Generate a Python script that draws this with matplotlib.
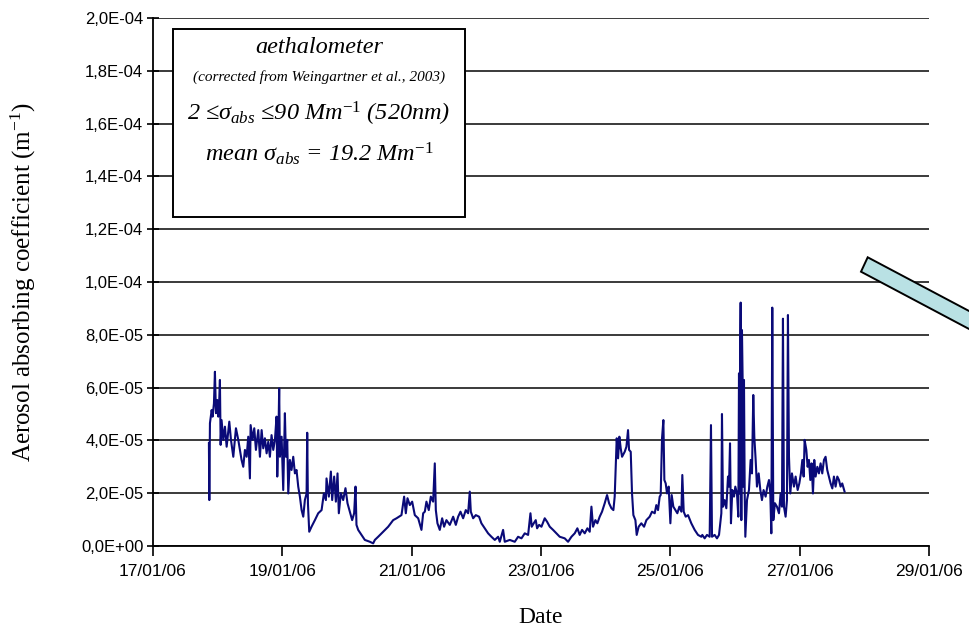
import numpy as np
import matplotlib
matplotlib.use('Agg')
import matplotlib.pyplot as plt
import matplotlib.dates as mdates
from matplotlib.patches import Polygon, Rectangle
from matplotlib.ticker import FuncFormatter

# days since 17/01/06 00:00 and absorption coefficient in 1e-5 m^-1
days = [
    0.865, 0.871, 0.881, 0.907, 0.922, 0.943, 0.958, 0.974, 0.994, 1.010,
    1.025, 1.035, 1.046, 1.061, 1.087, 1.113, 1.139, 1.180, 1.206, 1.242,
    1.283, 1.319, 1.345, 1.370, 1.396, 1.422, 1.448, 1.473, 1.499, 1.510,
    1.540, 1.566, 1.592, 1.628, 1.654, 1.680, 1.705, 1.731, 1.757, 1.783,
    1.808, 1.834, 1.860, 1.886, 1.911, 1.922, 1.942, 1.952, 1.963, 1.989,
    2.014, 2.040, 2.056, 2.076, 2.092, 2.117, 2.143, 2.169, 2.195, 2.220,
    2.246, 2.272, 2.298, 2.324, 2.349, 2.375, 2.385, 2.396, 2.416, 2.452,
    2.504, 2.555, 2.607, 2.643, 2.674,
    2.684, 2.720, 2.751, 2.771, 2.802, 2.828, 2.854, 2.874, 2.905, 2.941,
    2.977, 3.008, 3.044, 3.080, 3.111, 3.132, 3.147, 3.173, 3.225, 3.276,
    3.354, 3.405, 3.431, 3.482, 3.560, 3.637, 3.714, 3.766, 3.843, 3.884,
    3.910, 3.936, 3.972, 4.008, 4.049, 4.101, 4.152, 4.178, 4.204, 4.229,
    4.265, 4.296, 4.332, 4.358, 4.374, 4.399, 4.435, 4.472, 4.502, 4.538,
    4.590,
    4.642, 4.683, 4.719, 4.755, 4.796, 4.837, 4.873, 4.899, 4.915, 4.951,
    4.992, 5.043, 5.079, 5.131, 5.182, 5.234, 5.286, 5.337, 5.363, 5.414,
    5.440, 5.517, 5.595, 5.646, 5.698, 5.749, 5.801, 5.837, 5.857, 5.888,
    5.919, 5.940, 5.971, 6.007, 6.058, 6.094, 6.136, 6.187, 6.239, 6.290,
    6.367, 6.419, 6.471, 6.522,
    6.563, 6.599, 6.635, 6.677, 6.718, 6.754, 6.780, 6.805, 6.841, 6.872,
    6.908, 6.944, 6.986, 7.022, 7.053, 7.089, 7.120, 7.140, 7.171, 7.192,
    7.212, 7.233, 7.254, 7.295, 7.321, 7.346, 7.362, 7.388, 7.408, 7.429,
    7.460, 7.480, 7.511, 7.552, 7.594, 7.630, 7.681, 7.717, 7.759, 7.784,
    7.810, 7.836, 7.851, 7.872, 7.893, 7.908, 7.929, 7.949, 7.975, 8.001,
    8.021, 8.047, 8.078, 8.109, 8.140, 8.171, 8.186, 8.207, 8.238, 8.274,
    8.325, 8.377, 8.428, 8.480,
    8.495, 8.531, 8.567, 8.609, 8.629, 8.645, 8.686, 8.722, 8.753, 8.773,
    8.789, 8.799, 8.815, 8.840, 8.866, 8.892, 8.907, 8.923, 8.938, 8.959,
    8.985, 9.005, 9.031, 9.052, 9.062, 9.072, 9.077, 9.088, 9.098, 9.108,
    9.119, 9.129, 9.139, 9.150, 9.160, 9.186, 9.216, 9.242, 9.263, 9.283,
    9.299, 9.320, 9.340, 9.366, 9.392, 9.417, 9.443, 9.474, 9.500, 9.526,
    9.546, 9.562, 9.577, 9.593, 9.618, 9.649, 9.680, 9.706, 9.727, 9.742,
    9.757, 9.783, 9.804, 9.819, 9.835, 9.855, 9.881, 9.912, 9.938, 9.969,
    9.995, 10.020, 10.041, 10.062, 10.077, 10.103, 10.123, 10.144, 10.165, 10.185,
    10.206, 10.226, 10.247, 10.273, 10.298, 10.324, 10.350, 10.376, 10.401, 10.427,
    10.453, 10.479, 10.505, 10.530, 10.556, 10.582, 10.608, 10.633, 10.659, 10.695,
]
sigma_abs = [
    3.89, 1.74, 4.65, 5.15, 4.90, 5.40, 6.60, 5.03, 5.53, 4.90,
    5.53, 6.29, 3.83, 4.77, 4.02, 4.52, 3.76, 4.71, 4.02, 3.38,
    4.46, 4.02, 3.64, 3.26, 3.00, 3.64, 3.38, 4.14, 2.56, 4.58,
    4.02, 4.46, 3.64, 4.39, 3.38, 4.39, 3.70, 4.08, 3.51, 3.95,
    3.38, 4.20, 3.64, 4.02, 4.90, 2.63, 4.52, 5.97, 3.38, 4.14,
    2.12, 5.03, 3.38, 4.02, 1.99, 3.26, 2.88, 3.38, 2.75, 2.88,
    2.25, 1.87, 1.36, 1.11, 1.74, 1.99, 4.29, 1.62, 0.54, 0.73,
    0.98, 1.24, 1.36, 1.99, 1.74,
    2.56, 1.87, 2.82, 1.74, 2.63, 1.68, 2.75, 1.24, 2.00, 1.74,
    2.19, 1.62, 1.30, 0.98, 1.24, 2.25, 0.80, 0.61, 0.42, 0.23,
    0.16, 0.10, 0.23, 0.35, 0.54, 0.73, 0.98, 1.05, 1.17, 1.87,
    1.24, 1.81, 1.55, 1.68, 1.17, 1.05, 0.61, 1.24, 1.30, 1.68,
    1.36, 1.87, 1.68, 3.13, 1.36, 0.86, 0.61, 1.05, 0.73, 0.98,
    0.80,
    1.11, 0.80, 1.11, 1.30, 1.05, 1.36, 1.24, 2.06, 1.30, 1.05,
    1.17, 1.11, 0.86, 0.67, 0.48, 0.35, 0.23, 0.35, 0.16, 0.61,
    0.16, 0.23, 0.16, 0.35, 0.29, 0.48, 0.42, 1.24, 0.73, 0.86,
    0.98, 0.67, 0.80, 0.73, 1.05, 0.92, 0.73, 0.61, 0.48, 0.35,
    0.29, 0.16, 0.35, 0.48,
    0.67, 0.42, 0.61, 0.48, 0.67, 0.54, 1.49, 0.73, 0.98, 0.86,
    1.11, 1.30, 1.62, 1.93, 1.62, 1.43, 1.36, 1.87, 4.08, 3.32,
    4.14, 3.70, 3.38, 3.57, 3.76, 4.39, 3.64, 3.57, 1.99, 1.17,
    0.98, 0.42, 0.73, 0.86, 0.73, 0.98, 1.11, 1.30, 1.24, 1.55,
    1.36, 1.87, 1.93, 4.08, 4.77, 2.50, 2.37, 1.99, 2.25, 0.86,
    1.93, 1.49, 1.36, 1.24, 1.49, 1.30, 2.69, 1.30, 1.11, 1.17,
    0.86, 0.61, 0.42, 0.35,
    0.42, 0.29, 0.42, 0.35, 4.58, 0.35, 0.42, 0.29, 0.42, 0.86,
    1.24, 5.00, 1.49, 1.74, 1.43, 2.63, 2.25, 3.89, 0.86, 2.12,
    1.87, 2.25, 1.99, 1.11, 6.54, 1.99, 6.29, 9.22, 0.98, 8.18,
    6.16, 2.25, 6.29, 1.99, 0.35, 1.74, 2.12, 3.26, 2.75, 5.72,
    4.14, 3.26, 2.25, 2.75, 2.12, 1.74, 2.12, 1.87, 2.25, 2.50,
    1.99, 0.48, 9.03, 0.98, 1.62, 1.49, 1.24, 1.99, 1.49, 8.61,
    1.49, 1.11, 1.74, 8.75, 3.38, 1.99, 2.75, 2.25, 2.63, 2.12,
    2.37, 2.75, 3.26, 2.63, 4.02, 3.64, 3.00, 3.26, 2.50, 3.13,
    1.99, 3.26, 2.63, 3.00, 2.75, 3.13, 2.75, 3.26, 3.38, 2.88,
    2.63, 2.37, 2.18, 2.63, 2.25, 2.63, 2.50, 2.25, 2.37, 2.06,
]

start_date = np.datetime64('2006-01-17T00:00')
end_date = np.datetime64('2006-01-29T00:00')
y_ticks = [0, 2e-5, 4e-5, 6e-5, 8e-5, 1e-4, 1.2e-4, 1.4e-4, 1.6e-4, 1.8e-4, 2e-4]

plt.rcParams['mathtext.fontset'] = 'custom'
plt.rcParams['mathtext.rm'] = 'Liberation Serif'
plt.rcParams['mathtext.it'] = 'Liberation Serif:italic'

W, H = 969, 631
fig = plt.figure(figsize=(W / 100, H / 100), dpi=100)
ax = fig.add_axes([153 / W, 1 - 546 / H, 776 / W, 528 / H])

times = start_date + (np.array(days) * 24 * 60).astype('timedelta64[m]')
values = np.array(sigma_abs) * 1e-5
ax.plot(times, values, color='#0a0a78', lw=1.5)

ax.set_xlim(start_date, end_date)
ax.set_ylim(0, 2e-4)
ax.set_yticks(y_ticks)
ax.yaxis.set_major_formatter(FuncFormatter(lambda v, p: f'{v:.1E}'.replace('.', ',')))
ax.xaxis.set_major_locator(mdates.DayLocator(interval=2))
ax.xaxis.set_major_formatter(mdates.DateFormatter('%d/%m/%y'))

for lbl in ax.get_xticklabels() + ax.get_yticklabels():
    lbl.set_family('Liberation Sans')
ax.tick_params(axis='x', direction='out', length=7, width=1.2, pad=6, labelsize=12.5)
ax.tick_params(axis='y', direction='inout', length=8, width=1.2, pad=3, labelsize=12)

ax.yaxis.grid(True, color='#2b2b2b', lw=1.3)
ax.set_axisbelow(True)
for s in ['top', 'right']:
    ax.spines[s].set_visible(False)
for s in ['left', 'bottom']:
    ax.spines[s].set_linewidth(1.3)

ax.set_ylabel('Aerosol absorbing coefficient (m$^{-1}$)', family='Liberation Serif', fontsize=18)
ax.yaxis.set_label_coords(-0.148, 0.5)
ax.set_xlabel('Date', family='Liberation Serif', fontsize=17)
ax.xaxis.set_label_coords(0.5, -0.115)

# text box
ax.add_patch(Rectangle((0.0258, 0.623), 0.376, 0.356, transform=ax.transAxes,
                       facecolor='white', edgecolor='black', lw=1.4, zorder=5))
tkw = dict(transform=ax.transAxes, ha='center', va='center', family='Liberation Serif',
           style='italic', zorder=6)
ax.text(0.214, 0.945, 'aethalometer', fontsize=17.5, **tkw)
ax.text(0.214, 0.888, '(corrected from Weingartner et al., 2003)', fontsize=11, **tkw)
ax.text(0.214, 0.818, '2 \u2264' + r'$\sigma_{abs}$' + ' \u226490 Mm' + r'$^{\mathit{-1}}$' + ' (520nm)',
        fontsize=17.5, **tkw)
ax.text(0.214, 0.742, 'mean ' + r'$\sigma_{abs}$' + ' = 19.2 Mm' + r'$^{\mathit{-1}}$',
        fontsize=17.5, **tkw)

# arrow coming in from the right edge
arrow_px = [(861, 271.7), (867.7, 257.3), (1000, 327.4), (1000, 345.4)]
fig.patches.append(Polygon([(x / W, 1 - y / H) for x, y in arrow_px], closed=True,
                           transform=fig.transFigure, facecolor='#b9e1e4',
                           edgecolor='black', lw=1.4, zorder=10))

fig.savefig('out.png', dpi=100)
